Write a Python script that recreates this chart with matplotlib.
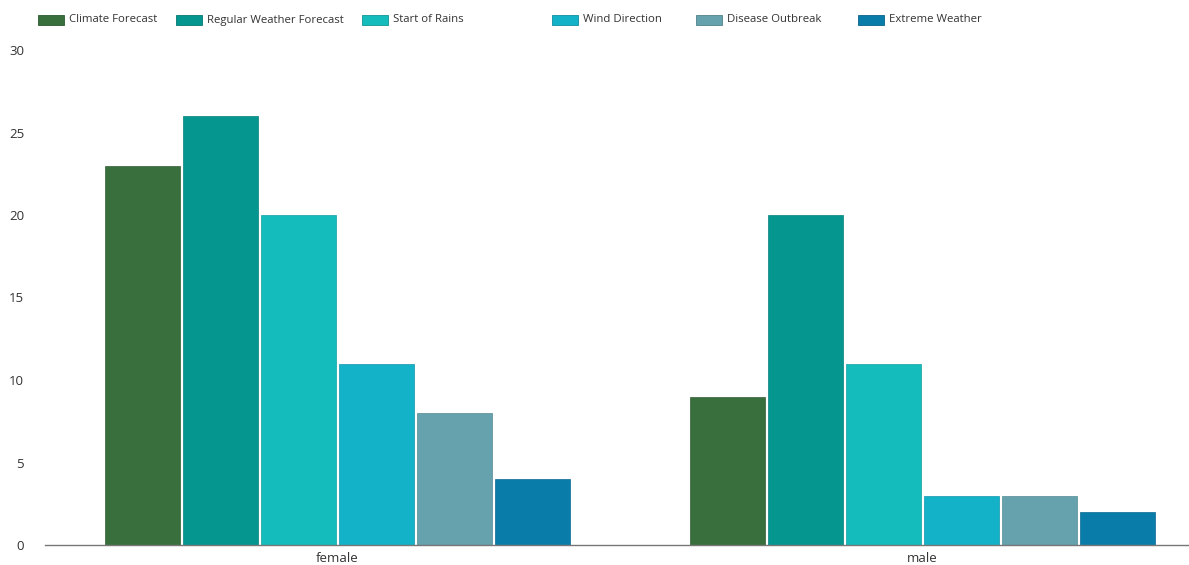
import matplotlib.pyplot as plt
from matplotlib.patches import Rectangle
from matplotlib.colors import to_rgb
import numpy as np

plt.rcParams['font.family'] = ['Open Sans', 'DejaVu Sans']

# data
groups = ['female', 'male']
series = ['Climate Forecast', 'Regular Weather Forecast', 'Start of Rains',
          'Wind Direction', 'Disease Outbreak', 'Extreme Weather']
values = {
    'Climate Forecast': [23, 9],
    'Regular Weather Forecast': [26, 20],
    'Start of Rains': [20, 11],
    'Wind Direction': [11, 3],
    'Disease Outbreak': [8, 3],
    'Extreme Weather': [4, 2],
}
colors = ['#386f3c', '#05968f', '#14bcbc', '#14b2c9', '#65a2ad', '#0a7caa']
yticks = [0, 5, 10, 15, 20, 25, 30]

W, H = 1189, 565
fig = plt.figure(figsize=(W / 100, H / 100), dpi=100)
ax = fig.add_axes([45 / W, 1 - 545 / H, 1170 / W, (545 - 50) / H])

x = np.arange(len(groups))
group_w = 0.8
slot = group_w / len(series)
for i, (name, c) in enumerate(zip(series, colors)):
    edge = tuple(v * 0.85 for v in to_rgb(c))
    ax.bar(x - group_w / 2 + slot * (i + 0.5), values[name], width=slot * 0.965,
           color=c, edgecolor=edge, linewidth=0.5, zorder=2)

ax.set_xlim(-0.5, 1.5)
ax.set_ylim(0, 30)
ax.set_yticks(yticks)
ax.set_xticks(x)
ax.set_xticklabels(groups)
for s in ['top', 'right', 'left']:
    ax.spines[s].set_visible(False)
ax.spines['bottom'].set_color('#777777')
ax.spines['bottom'].set_linewidth(1.0)
ax.spines['bottom'].set_zorder(3)
ax.tick_params(axis='both', length=0, labelsize=9.5, colors='#333333')
ax.tick_params(axis='y', pad=15)
ax.tick_params(axis='x', pad=5)

# legend, laid out across the top
legend_x = [38, 176, 362, 552, 696, 858]
for name, c, lx in zip(series, colors, legend_x):
    edge = tuple(v * 0.8 for v in to_rgb(c))
    fig.add_artist(Rectangle((lx / W, 1 - 25 / H), 26 / W, 10 / H,
                             transform=fig.transFigure, facecolor=c,
                             edgecolor=edge, linewidth=0.6))
    fig.text((lx + 31) / W, 1 - 20 / H, name, fontsize=8.2, color='#333333',
             va='center', ha='left')

fig.savefig('out.png', dpi=100)
